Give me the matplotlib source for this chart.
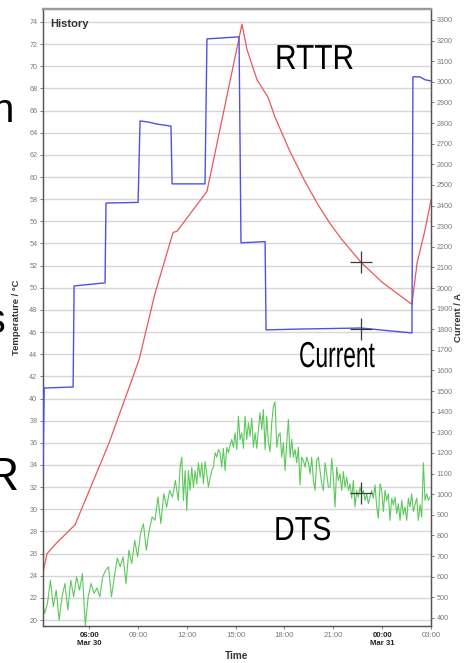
import numpy as np
import matplotlib
matplotlib.use('Agg')
import matplotlib.pyplot as plt
from matplotlib.patheffects import AbstractPathEffect
from matplotlib.transforms import Affine2D

# ---------------- data ----------------
current_hours = [3.17, 3.24, 5.02, 5.08, 6.98, 7.04, 9.01, 9.13, 9.62, 10.17, 11.03, 11.10,
                 13.12, 13.24, 15.21, 15.33, 16.81, 16.87, 18.95, 22.70, 23.87, 25.83,
                 25.89, 26.32, 26.63, 27.00]
current_amps = [1100, 1515, 1520, 2010, 2025, 2412, 2415, 2810, 2805, 2795, 2785, 2505,
                2505, 3208, 3218, 2219, 2225, 1797, 1801, 1806, 1797, 1782,
                3024, 3024, 3010, 3004]

rttr_hours = [3.17, 3.42, 4.03, 5.14, 7.23, 9.07, 10.05, 11.16, 11.40, 13.24, 15.39, 15.70,
              16.31, 16.99, 17.42, 18.34, 19.26, 20.06, 20.80, 21.50, 22.70, 24.00, 24.91,
              25.83, 26.14, 26.63, 27.00]
rttr_temp = [24.3, 26.0, 27.0, 28.6, 36.0, 43.5, 49.5, 55.0, 55.1, 58.7, 73.8, 71.5,
             68.8, 67.2, 65.4, 62.3, 59.6, 57.5, 55.8, 54.4, 52.3, 50.5, 49.5,
             48.5, 52.2, 55.2, 57.9]

dts_a_span = (3.09, 11.48)
dts_a_temp = [22.1, 20.6, 21.5, 23.6, 21.2, 22.7, 20.0, 22.1, 23.3, 20.9, 23.6, 22.1, 23.9,
              22.7, 24.2, 19.5, 22.1, 23.3, 22.4, 22.9, 22.1, 23.9, 24.5, 24.8, 22.1, 23.9,
              25.6, 24.8, 25.7, 23.3, 26.3, 25.1, 27.2, 25.7, 27.8, 28.7, 26.3, 28.1, 29.3,
              29.0, 31.1, 28.7, 31.4, 30.2, 31.7, 31.1, 32.6, 30.8]
dts_b_span = (11.59, 26.94)
dts_b_temp = [33.8, 34.7, 30.8, 33.5, 29.9, 33.5, 31.7, 33.8, 32.0, 33.5,
              32.3, 34.2, 32.9, 34.2, 32.3, 34.3, 33.2, 32.0, 32.8, 33.5,
              33.8, 35.1, 34.7, 35.4, 35.1, 33.8, 35.5, 33.5, 35.6, 35.1,
              35.8, 36.3, 35.6, 36.9, 35.4, 38.4, 36.3, 36.9, 35.5, 38.4,
              36.3, 37.8, 36.6, 38.2, 35.6, 36.9, 35.5, 37.2, 38.7, 37.2,
              39.0, 35.4, 38.4, 36.0, 35.2, 37.8, 39.3, 39.7, 35.6, 36.6,
              36.9, 34.7, 36.0, 33.5, 36.0, 38.1, 34.7, 36.3, 34.7, 35.4,
              34.2, 35.6, 32.2, 34.7, 34.4, 33.8, 34.7, 34.2, 33.2, 34.7,
              32.6, 31.7, 34.4, 34.7, 33.5, 32.3, 31.7, 34.2, 33.2, 32.0,
              32.0, 34.6, 32.9, 30.2, 33.8, 32.6, 33.2, 31.7, 33.4, 32.0,
              32.9, 31.7, 32.3, 31.0, 32.6, 30.2, 31.7, 31.1, 32.0, 31.4,
              31.7, 30.8, 31.4, 30.5, 31.1, 31.7, 31.0, 32.2, 30.2, 29.2,
              32.3, 31.7, 29.8, 31.7, 30.8, 31.4, 29.0, 31.0, 30.4, 31.1,
              29.6, 30.5, 29.0, 30.8, 29.5, 30.2, 29.0, 31.0, 30.2, 31.4,
              29.8, 30.4, 31.0, 29.0, 30.4, 29.3, 34.2, 30.8, 31.4, 30.8, 31.1]

cursor_hour = 22.70
cursor_rttr = 52.3
cursor_current = 1801
cursor_dts = 31.5

temp_ticks = list(range(20, 75, 2))
current_ticks = list(range(400, 3301, 100))
time_ticks = [6, 9, 12, 15, 18, 21, 24, 27]
time_labels = ['06:00\nMar 30', '09:00', '12:00', '15:00', '18:00', '21:00',
               '00:00\nMar 31', '03:00']


class HorizontalSqueeze(AbstractPathEffect):
    """Draw text narrower (scale glyphs horizontally about the text origin)."""

    def __init__(self, sx):
        super().__init__()
        self.sx = sx

    def draw_path(self, renderer, gc, tpath, affine, rgbFace=None):
        renderer.draw_path(gc, tpath, Affine2D().scale(self.sx, 1.0) + affine, rgbFace)


# ---------------- figure ----------------
FONT = ['Liberation Sans', 'DejaVu Sans']
plt.rcParams['font.family'] = FONT

W, H = 468, 663
fig = plt.figure(figsize=(W / 100, H / 100), dpi=100)
fig.patch.set_facecolor('white')

x0, x1, ytop, ybot = 43, 431, 9, 626
ax = fig.add_axes([x0 / W, 1 - ybot / H, (x1 - x0) / W, (ybot - ytop) / H])
ax.set_xlim(3.17, 27.0)
ax.set_ylim(19.46, 75.17)
ax2 = ax.twinx()
ax2.set_ylim(361, 3353)

ax.set_yticks(temp_ticks)
ax2.set_yticks(current_ticks)
ax.set_xticks(time_ticks)
ax.set_xticklabels(time_labels)

ax.yaxis.grid(True, color='#d6d6d6', lw=1.0)
ax.set_axisbelow(True)

tick_col = '#7a7a7a'
ax.tick_params(axis='y', labelsize=5.2, labelcolor=tick_col, length=2.5, width=0.6,
               color='#666666', pad=1.5)
ax2.tick_params(axis='y', labelsize=5.2, labelcolor=tick_col, length=2.5, width=0.6,
                color='#666666', pad=1.5)
ax.tick_params(axis='x', labelsize=5.6, labelcolor=tick_col, length=2.5, width=0.6,
               color='#666666', pad=2)
for lab in ax.get_xticklabels():
    if '\n' in lab.get_text():
        lab.set_fontweight('bold')
        lab.set_color('#222222')

for a in (ax, ax2):
    for s in ('left', 'right', 'bottom'):
        a.spines[s].set_color('#555555')
        a.spines[s].set_linewidth(0.9)
    a.spines['top'].set_color('#9a9a9a')
    a.spines['top'].set_linewidth(1.6)

ax.set_ylabel('Temperature / °C', fontsize=6.8, fontweight='bold', color='#333333', labelpad=6)
ax2.set_ylabel('Current / A', fontsize=6.8, fontweight='bold', color='#333333', labelpad=1)
ax.set_xlabel('Time', fontsize=7.2, fontweight='bold', color='#333333', labelpad=3)

ax.text(0.018, 0.976, 'History', transform=ax.transAxes, fontsize=8, fontweight='bold',
        color='#333333', va='center', ha='left')

# series
dts_a_hours = np.linspace(dts_a_span[0], dts_a_span[1], len(dts_a_temp))
dts_b_hours = np.linspace(dts_b_span[0], dts_b_span[1], len(dts_b_temp))
dts_hours = np.concatenate([dts_a_hours, dts_b_hours])
dts_temp = np.concatenate([dts_a_temp, dts_b_temp])

ax.plot(rttr_hours, rttr_temp, color='#e8585a', lw=0.9, zorder=3)
ax.plot(dts_hours, dts_temp, color='#5cc95c', lw=0.8, zorder=3)
ax2.plot(current_hours, current_amps, color='#5050e6', lw=1.0, zorder=3)

cross = dict(marker='+', ms=16, mew=0.9, color='#3a3a3a', ls='none', zorder=5)
ax.plot([cursor_hour], [cursor_rttr], **cross)
ax.plot([cursor_hour], [cursor_dts], **cross)
ax2.plot([cursor_hour], [cursor_current], **cross)

# overlay slide text
def ftext(px, py, s, size, ha='left', sx=None):
    t = fig.text(px / W, 1 - py / H, s, fontsize=size, ha=ha, va='baseline',
                 color='black', family=FONT)
    if sx is not None:
        t.set_path_effects([HorizontalSqueeze(sx)])
    return t

ftext(275, 69, 'RTTR', 25, sx=0.86)
ftext(299, 367, 'Current', 26, sx=0.63)
ftext(274, 540, 'DTS', 24, sx=0.86)
ftext(14, 122, 'n', 29, ha='right')
ftext(6, 333, 's', 30, ha='right')
ftext(18, 490, 'R', 33, ha='right')

fig.savefig('out.png', dpi=100)
